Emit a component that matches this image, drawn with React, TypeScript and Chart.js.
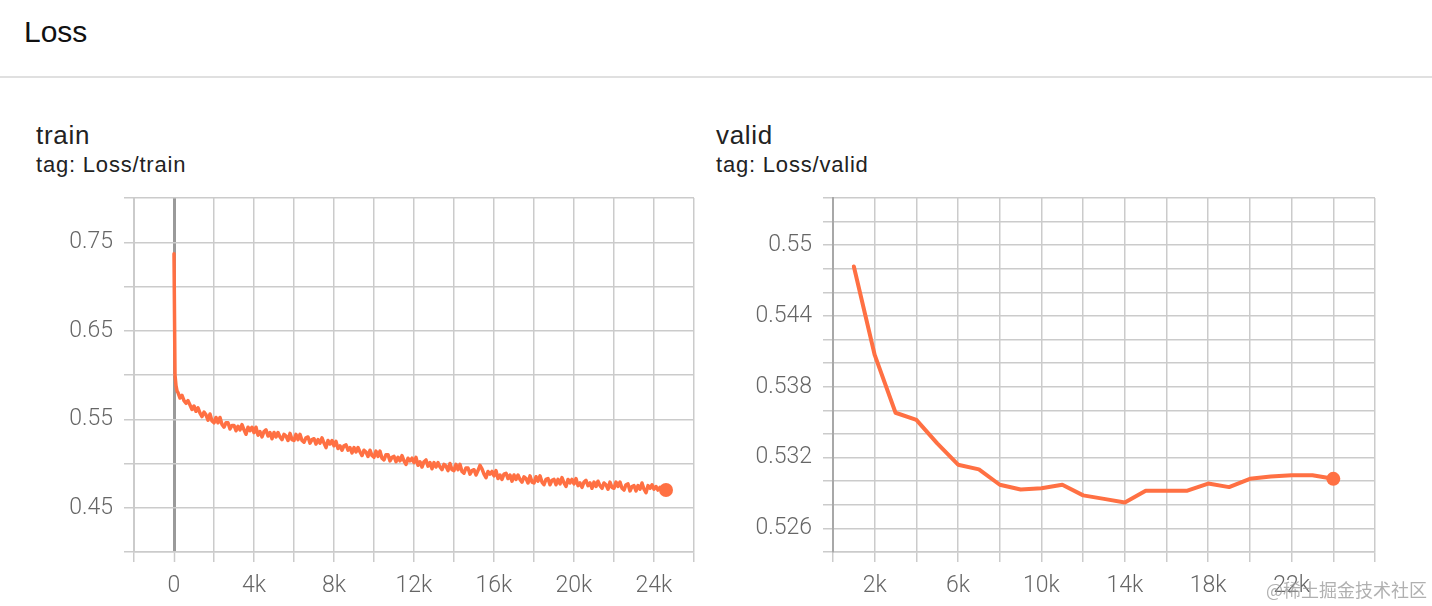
import React, { useEffect, useRef } from "react";
import { Chart, registerables } from "chart.js";

Chart.register(...registerables);

// ---------- DATA ----------
const PAGE_TITLE = "Loss";
const TRAIN_TITLE = "train";
const TRAIN_TAG = "tag: Loss/train";
const VALID_TITLE = "valid";
const VALID_TAG = "tag: Loss/valid";
const WATERMARK = "@稀土掘金技术社区";

// steep start of the train curve
const TRAIN_HEAD_STEPS = [0, 50, 100, 150];
const TRAIN_HEAD_LOSS = [0.737, 0.6, 0.588, 0.582];

// train loss logged every 100 steps, starting at step 200
const TRAIN_STEP_INTERVAL = 100;
const TRAIN_FIRST_STEP = 200;
const TRAIN_LOSS = [
  0.58, 0.574, 0.577, 0.571, 0.568, 0.571, 0.566, 0.561,
  0.565, 0.559, 0.563, 0.557, 0.553, 0.558, 0.555, 0.549, 0.556, 0.548,
  0.546, 0.552, 0.546, 0.552, 0.544, 0.541, 0.546, 0.546, 0.539, 0.543,
  0.543, 0.537, 0.542, 0.538, 0.544, 0.538, 0.533, 0.541, 0.537, 0.541,
  0.535, 0.541, 0.532, 0.536, 0.53, 0.536, 0.538, 0.531, 0.535, 0.528,
  0.535, 0.53, 0.535, 0.53, 0.527, 0.533, 0.531, 0.526, 0.534, 0.527,
  0.526, 0.533, 0.527, 0.533, 0.526, 0.524, 0.529, 0.53, 0.523, 0.527,
  0.528, 0.522, 0.527, 0.523, 0.529, 0.523, 0.518, 0.526, 0.522, 0.526,
  0.52, 0.525, 0.517, 0.52, 0.515, 0.52, 0.521, 0.515, 0.518, 0.512,
  0.518, 0.513, 0.518, 0.513, 0.509, 0.515, 0.513, 0.508, 0.515, 0.509,
  0.507, 0.514, 0.508, 0.514, 0.506, 0.504, 0.51, 0.51, 0.503, 0.507,
  0.508, 0.502, 0.507, 0.503, 0.509, 0.503, 0.499, 0.506, 0.503, 0.506,
  0.501, 0.507, 0.498, 0.502, 0.496, 0.502, 0.504, 0.497, 0.501, 0.494,
  0.501, 0.496, 0.501, 0.496, 0.493, 0.499, 0.497, 0.492, 0.5, 0.493,
  0.492, 0.499, 0.493, 0.499, 0.491, 0.489, 0.495, 0.495, 0.488, 0.492,
  0.493, 0.487, 0.492, 0.498, 0.494, 0.488, 0.484, 0.491, 0.488, 0.491,
  0.486, 0.492, 0.483, 0.487, 0.482, 0.488, 0.489, 0.483, 0.487, 0.48,
  0.487, 0.482, 0.487, 0.482, 0.479, 0.485, 0.483, 0.478, 0.486, 0.479,
  0.478, 0.485, 0.48, 0.486, 0.479, 0.476, 0.482, 0.483, 0.476, 0.481,
  0.482, 0.476, 0.482, 0.477, 0.484, 0.478, 0.474, 0.482, 0.478, 0.482,
  0.477, 0.483, 0.475, 0.478, 0.473, 0.479, 0.481, 0.475, 0.478, 0.472,
  0.479, 0.474, 0.48, 0.475, 0.472, 0.478, 0.476, 0.471, 0.479, 0.473,
  0.472, 0.479, 0.474, 0.479, 0.472, 0.47, 0.476, 0.477, 0.469, 0.474,
  0.475, 0.469, 0.475, 0.471, 0.478, 0.471, 0.467, 0.475, 0.472, 0.476,
  0.471, 0.474, 0.47, 0.473, 0.47, 0.472, 0.47,
];

const VALID_STEPS = [
  1000, 2000, 3000, 4000, 5000, 6000, 7000, 8000, 9000, 10000, 11000, 12000,
  13000, 14000, 15000, 16000, 17000, 18000, 19000, 20000, 21000, 22000, 23000,
  24000,
];
const VALID_LOSS = [
  0.5482, 0.5407, 0.5358, 0.5352, 0.5332, 0.5314, 0.531, 0.5297, 0.5293,
  0.5294, 0.5297, 0.5288, 0.5285, 0.5282, 0.5292, 0.5292, 0.5292, 0.5298,
  0.5295, 0.5302, 0.5304, 0.5305, 0.5305, 0.5302,
];

// grid lines and tick labels
const TRAIN_X_GRID = [
  -2000, 0, 2000, 4000, 6000, 8000, 10000, 12000, 14000, 16000, 18000, 20000,
  22000, 24000, 26000,
];
const TRAIN_X_LABEL_VALUES = [0, 4000, 8000, 12000, 16000, 20000, 24000];
const TRAIN_X_LABELS = ["0", "4k", "8k", "12k", "16k", "20k", "24k"];
const TRAIN_Y_GRID = [0.4, 0.45, 0.5, 0.55, 0.6, 0.65, 0.7, 0.75, 0.8];
const TRAIN_Y_LABEL_VALUES = [0.45, 0.55, 0.65, 0.75];
const TRAIN_Y_LABELS = ["0.45", "0.55", "0.65", "0.75"];

const VALID_X_GRID = [
  0, 2000, 4000, 6000, 8000, 10000, 12000, 14000, 16000, 18000, 20000, 22000,
  24000, 26000,
];
const VALID_X_LABEL_VALUES = [2000, 6000, 10000, 14000, 18000, 22000];
const VALID_X_LABELS = ["2k", "6k", "10k", "14k", "18k", "22k"];
const VALID_Y_GRID = [
  0.524, 0.526, 0.528, 0.53, 0.532, 0.534, 0.536, 0.538, 0.54, 0.542, 0.544,
  0.546, 0.548, 0.55, 0.552, 0.554,
];
const VALID_Y_LABEL_VALUES = [0.526, 0.532, 0.538, 0.544, 0.55];
const VALID_Y_LABELS = ["0.526", "0.532", "0.538", "0.544", "0.55"];

// ---------- STYLE ----------
const LINE_COLOR = "#ff7043";
const GRID_COLOR = "#cbcbcb";
const TICK_FONT = { family: "Roboto, 'Liberation Sans', sans-serif", size: 23, weight: "300" as any };
const TICK_COLOR = "#666";

function labelFor(values: number[], labels: string[], v: number): string {
  for (let i = 0; i < values.length; i++) {
    if (Math.abs(values[i] - v) < 1e-7 * Math.max(1, Math.abs(v))) return labels[i];
  }
  return "";
}

type PanelCfg = {
  points: { x: number; y: number }[];
  lineWidth: number;
  xGrid: number[];
  xLabelValues: number[];
  xLabels: string[];
  yGrid: number[];
  yLabelValues: number[];
  yLabels: string[];
  yAxisWidth: number;
  zeroLine: boolean;
  leftBorderColor: string;
};

function buildChart(canvas: HTMLCanvasElement, cfg: PanelCfg) {
  const last = cfg.points.length - 1;
  return new Chart(canvas, {
    type: "line",
    data: {
      datasets: [
        {
          data: cfg.points,
          borderColor: LINE_COLOR,
          backgroundColor: LINE_COLOR,
          borderWidth: cfg.lineWidth,
          tension: 0,
          borderJoinStyle: "round",
          borderCapStyle: "round",
          pointRadius: (ctx: any) => (ctx.dataIndex === last ? 7 : 0),
          pointHoverRadius: 0,
          pointBorderWidth: 0,
          fill: false,
        },
      ],
    },
    options: {
      animation: false,
      responsive: false,
      maintainAspectRatio: false,
      events: [],
      layout: { padding: { top: 8, right: 10, bottom: 10, left: 0 } },
      plugins: { legend: { display: false }, tooltip: { enabled: false } },
      scales: {
        x: {
          type: "linear",
          min: cfg.xGrid[0],
          max: cfg.xGrid[cfg.xGrid.length - 1],
          afterBuildTicks: (scale: any) => {
            scale.ticks = cfg.xGrid.map((v) => ({ value: v }));
          },
          afterFit: (scale: any) => {
            scale.height = 44;
            scale.paddingLeft = 0;
            scale.paddingRight = 0;
          },
          ticks: {
            autoSkip: false,
            maxRotation: 0,
            minRotation: 0,
            padding: 10,
            font: TICK_FONT,
            color: TICK_COLOR,
            callback: (v: any) => labelFor(cfg.xLabelValues, cfg.xLabels, Number(v)),
          },
          grid: {
            drawOnChartArea: true,
            drawTicks: true,
            tickLength: 10,
            color: (ctx: any) =>
              cfg.zeroLine && ctx.tick && ctx.tick.value === 0 ? "#9a9a9a" : GRID_COLOR,
            lineWidth: (ctx: any) =>
              cfg.zeroLine && ctx.tick && ctx.tick.value === 0 ? 3 : 1.5,
            tickColor: GRID_COLOR,
            tickWidth: 1.5,
          },
          border: { display: true, color: GRID_COLOR, width: 1.5 },
        },
        y: {
          type: "linear",
          min: cfg.yGrid[0],
          max: cfg.yGrid[cfg.yGrid.length - 1],
          afterBuildTicks: (scale: any) => {
            scale.ticks = cfg.yGrid.map((v) => ({ value: v }));
          },
          afterFit: (scale: any) => {
            scale.width = cfg.yAxisWidth;
            scale.paddingTop = 0;
            scale.paddingBottom = 0;
          },
          ticks: {
            autoSkip: false,
            padding: 11,
            font: TICK_FONT,
            color: TICK_COLOR,
            callback: (v: any) => labelFor(cfg.yLabelValues, cfg.yLabels, Number(v)),
          },
          grid: {
            drawOnChartArea: true,
            drawTicks: true,
            tickLength: 10,
            color: GRID_COLOR,
            lineWidth: 1.5,
          },
          border: { display: true, color: cfg.leftBorderColor, width: 2 },
        },
      },
    },
  } as any);
}

function Panel(props: {
  left: number;
  width: number;
  title: string;
  tag: string;
  textLeft: number;
  cfg: PanelCfg;
}) {
  const ref = useRef<HTMLCanvasElement | null>(null);
  useEffect(() => {
    if (!ref.current) return;
    const chart = buildChart(ref.current, props.cfg);
    return () => chart.destroy();
  }, []);
  return (
    <>
      <div
        style={{
          position: "absolute",
          left: props.textLeft,
          top: 122,
          fontSize: 26,
          lineHeight: "26px",
          letterSpacing: "0.7px",
          color: "#222",
          fontFamily: "'Liberation Sans', Arial, sans-serif",
          whiteSpace: "nowrap",
        }}
      >
        {props.title}
      </div>
      <div
        style={{
          position: "absolute",
          left: props.textLeft,
          top: 154,
          fontSize: 22,
          lineHeight: "22px",
          letterSpacing: "0.8px",
          color: "#222",
          fontFamily: "'Liberation Sans', Arial, sans-serif",
          whiteSpace: "nowrap",
        }}
      >
        {props.tag}
      </div>
      <canvas
        ref={ref}
        width={props.width}
        height={416}
        style={{
          position: "absolute",
          left: props.left,
          top: 190,
          width: props.width,
          height: 416,
        }}
      />
    </>
  );
}

export default function App() {
  useEffect(() => {
    document.body.style.margin = "0";
    document.body.style.background = "#fff";
  }, []);

  const trainPoints = [
    ...TRAIN_HEAD_STEPS.map((s, i) => ({ x: s, y: TRAIN_HEAD_LOSS[i] })),
    ...TRAIN_LOSS.map((v, i) => ({ x: TRAIN_FIRST_STEP + i * TRAIN_STEP_INTERVAL, y: v })),
  ];
  const validPoints = VALID_STEPS.map((s, i) => ({ x: s, y: VALID_LOSS[i] }));

  return (
    <div
      style={{
        position: "relative",
        width: 1432,
        height: 606,
        overflow: "hidden",
        background: "#fff",
        fontFamily: "'Liberation Sans', Arial, sans-serif",
      }}
    >
      <div
        style={{
          position: "absolute",
          left: 24,
          top: 17,
          fontSize: 30,
          lineHeight: "30px",
          color: "#111",
        }}
      >
        {PAGE_TITLE}
      </div>
      <div
        style={{
          position: "absolute",
          left: 0,
          top: 76,
          width: 1432,
          height: 2,
          background: "#e0e0e0",
        }}
      />
      <Panel
        left={40}
        width={664}
        title={TRAIN_TITLE}
        tag={TRAIN_TAG}
        textLeft={36}
        cfg={{
          points: trainPoints,
          lineWidth: 3.5,
          xGrid: TRAIN_X_GRID,
          xLabelValues: TRAIN_X_LABEL_VALUES,
          xLabels: TRAIN_X_LABELS,
          yGrid: TRAIN_Y_GRID,
          yLabelValues: TRAIN_Y_LABEL_VALUES,
          yLabels: TRAIN_Y_LABELS,
          yAxisWidth: 94,
          zeroLine: true,
          leftBorderColor: GRID_COLOR,
        }}
      />
      <Panel
        left={740}
        width={645}
        title={VALID_TITLE}
        tag={VALID_TAG}
        textLeft={716}
        cfg={{
          points: validPoints,
          lineWidth: 4,
          xGrid: VALID_X_GRID,
          xLabelValues: VALID_X_LABEL_VALUES,
          xLabels: VALID_X_LABELS,
          yGrid: VALID_Y_GRID,
          yLabelValues: VALID_Y_LABEL_VALUES,
          yLabels: VALID_Y_LABELS,
          yAxisWidth: 93,
          zeroLine: false,
          leftBorderColor: "#a8a8a8",
        }}
      />
      <div
        style={{
          position: "absolute",
          left: 1266,
          top: 580,
          fontSize: 18,
          lineHeight: "18px",
          color: "rgba(150,150,150,0.75)",
          fontFamily: "'Noto Sans CJK SC', sans-serif",
          whiteSpace: "nowrap",
        }}
      >
        {WATERMARK}
      </div>
    </div>
  );
}
